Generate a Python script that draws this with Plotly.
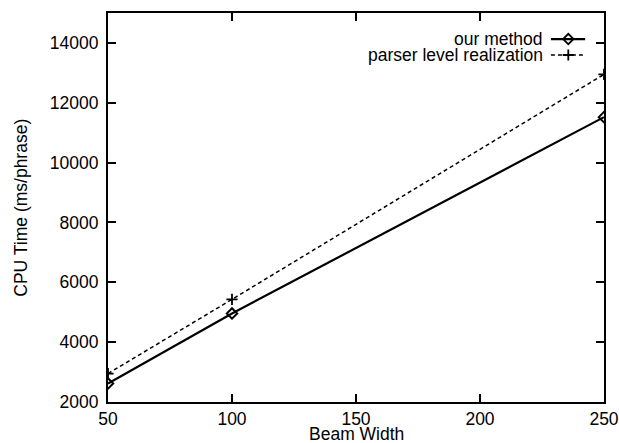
import plotly.graph_objects as go

# data
beam_width = [50, 100, 250]
our_method = [2620, 4960, 11520]
parser_level = [2950, 5430, 12950]

x_ticks = [50, 100, 150, 200, 250]
y_ticks = [2000, 4000, 6000, 8000, 10000, 12000, 14000]
y_tick_text = [str(v) for v in y_ticks]

font = dict(family="Liberation Sans, Arial, sans-serif", size=17.5, color="black")

fig = go.Figure()

fig.add_trace(go.Scatter(
    x=beam_width, y=parser_level, mode="lines+markers",
    line=dict(color="black", width=1.5, dash="4px,3px"),
    marker=dict(symbol="cross-thin-open", size=8, line=dict(color="black", width=1.8)),
    showlegend=False,
))
fig.add_trace(go.Scatter(
    x=beam_width, y=our_method, mode="lines+markers",
    line=dict(color="black", width=2.2),
    marker=dict(symbol="diamond-open", size=8, color="black", line=dict(color="black", width=2)),
    showlegend=False,
))

# gnuplot-style key: text on the left, sample on the right
key_rows = [
    ("our method", 0.933, "solid", 2.2, "diamond-open"),
    ("parser level realization", 0.892, "4px,3px", 1.5, "cross-thin-open"),
]
for label, ky, dash, lw, sym in key_rows:
    fig.add_annotation(x=0.881, y=ky, xref="paper", yref="paper", text=label,
                       showarrow=False, xanchor="right", yanchor="middle", font=font)
    fig.add_shape(type="line", xref="paper", yref="paper",
                  x0=0.893, x1=0.962, y0=ky, y1=ky,
                  line=dict(color="black", width=lw, dash=dash))
    fig.add_trace(go.Scatter(
        x=[0.928], y=[ky], xaxis="x2", yaxis="y2", mode="markers",
        marker=dict(symbol=sym, size=8, color="black", line=dict(color="black", width=1.8)),
        showlegend=False, hoverinfo="skip",
    ))

# axis titles as annotations so they sit where the original has them
fig.add_annotation(x=0.5, y=-0.082, xref="paper", yref="paper", text="Beam Width",
                   showarrow=False, xanchor="center", yanchor="middle", font=font)
fig.add_annotation(x=-0.177, y=0.5, xref="paper", yref="paper", text="CPU Time (ms/phrase)",
                   showarrow=False, textangle=-90, xanchor="center", yanchor="middle", font=font)

axis_common = dict(
    showline=True, linecolor="black", linewidth=2, mirror="ticks",
    ticks="inside", ticklen=8, tickwidth=1.5, tickcolor="black",
    showgrid=False, zeroline=False, tickfont=font, automargin=False,
)

fig.update_layout(
    width=619, height=443,
    margin=dict(l=108, r=15, t=13, b=41),
    paper_bgcolor="white", plot_bgcolor="white",
    font=font,
    xaxis=dict(range=[50, 250], tickvals=x_ticks, ticklabelstandoff=0, **axis_common),
    yaxis=dict(range=[2000, 15000], tickvals=y_ticks, ticktext=y_tick_text,
               ticklabelstandoff=4, **axis_common),
    xaxis2=dict(range=[0, 1], overlaying="x", visible=False),
    yaxis2=dict(range=[0, 1], overlaying="y", visible=False),
)

# drop the page's default body margin so the figure fills the window exactly
fig.write_html("out.html", config={"displayModeBar": False},
               post_script="document.body.style.margin='0';document.body.style.overflow='hidden';")
